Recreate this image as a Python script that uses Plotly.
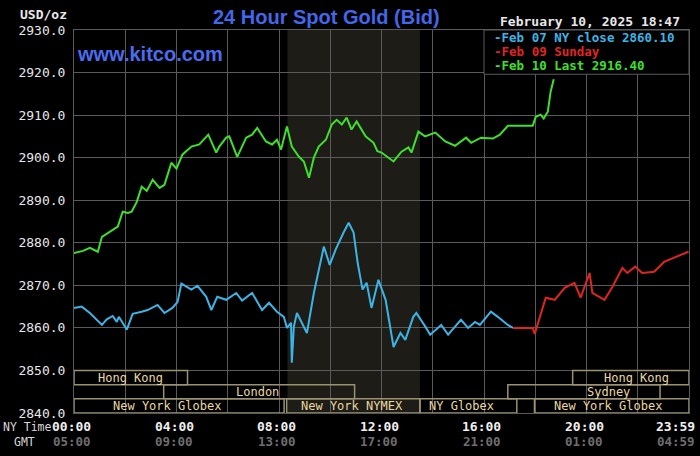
import plotly.graph_objects as go

# ---------------- data ----------------
blue_t = [0.0, 0.3, 0.62, 1.09, 1.28, 1.51, 1.67, 1.75, 2.06, 2.29, 2.64, 2.87, 3.26, 3.53, 3.84,
          4.04, 4.19, 4.39, 4.58, 4.82, 5.16, 5.36, 5.59, 5.94, 6.33, 6.56, 6.95, 7.34, 7.61, 7.92,
          8.19, 8.31, 8.47, 8.50, 8.58, 8.70, 8.89, 9.09, 9.36, 9.55, 9.75, 9.98, 10.21, 10.52,
          10.72, 10.91, 11.07, 11.26, 11.42, 11.61, 11.88, 12.16, 12.47, 12.74, 12.93, 13.24,
          13.36, 13.71, 13.90, 14.33, 14.60, 14.87, 15.10, 15.38, 15.65, 15.84, 16.27, 16.54,
          16.93, 17.13]
blue_v = [2864.7, 2865.0, 2863.5, 2860.7, 2862.0, 2862.8, 2861.4, 2862.6, 2859.6, 2863.3, 2863.8,
          2864.2, 2865.4, 2863.5, 2864.7, 2866.1, 2870.4, 2869.7, 2869.0, 2869.9, 2867.3, 2864.2,
          2867.3, 2866.6, 2868.2, 2866.4, 2868.2, 2864.2, 2865.9, 2863.8, 2862.6, 2860.0, 2861.2,
          2851.8, 2860.3, 2863.5, 2861.2, 2858.8, 2868.2, 2873.6, 2879.1, 2874.8, 2878.4, 2882.4,
          2884.7, 2882.4, 2875.3, 2869.0, 2870.6, 2864.7, 2871.3, 2866.6, 2855.5, 2858.8, 2857.2,
          2862.6, 2863.5, 2860.3, 2858.4, 2860.7, 2858.4, 2860.3, 2861.9, 2860.0, 2861.4, 2860.7,
          2863.8, 2862.6, 2860.7, 2860.0]

red_t = [17.13, 17.90, 17.98, 18.41, 18.76, 19.15, 19.53, 19.77, 20.12, 20.23, 20.70, 21.01,
         21.40, 21.59, 21.90, 22.17, 22.64, 23.03, 23.42, 23.81, 23.98]
red_v = [2860.0, 2860.0, 2858.6, 2867.1, 2866.6, 2869.4, 2870.6, 2867.1, 2872.9, 2868.2, 2866.6,
         2869.6, 2874.1, 2872.9, 2874.4, 2872.9, 2873.2, 2875.5, 2876.5, 2877.6, 2877.9]

green_t = [0.0, 0.35, 0.62, 0.93, 1.09, 1.40, 1.71, 1.90, 2.10, 2.25, 2.45, 2.64, 2.84, 3.07, 3.34,
           3.53, 3.80, 4.00, 4.23, 4.58, 4.89, 5.24, 5.55, 5.67, 5.94, 6.06, 6.37, 6.72, 6.95, 7.15,
           7.49, 7.73, 7.92, 8.08, 8.31, 8.50, 8.78, 8.97, 9.17, 9.36, 9.55, 9.83, 10.06, 10.25,
           10.45, 10.64, 10.83, 11.03, 11.38, 11.69, 11.84, 12.00, 12.47, 12.78, 13.05, 13.17,
           13.44, 13.70, 14.10, 14.49, 14.87, 15.30, 15.50, 15.88, 16.35, 16.62, 16.93, 17.90,
           18.02, 18.21, 18.33, 18.49, 18.56, 18.60, 18.72]
green_v = [2877.6, 2878.1, 2878.8, 2877.9, 2881.4, 2882.6, 2883.8, 2887.3, 2887.0, 2887.3, 2889.6,
           2893.2, 2892.2, 2894.8, 2892.9, 2893.6, 2898.8, 2897.4, 2900.7, 2902.6, 2903.1, 2905.4,
           2901.2, 2902.6, 2904.7, 2905.0, 2900.2, 2904.7, 2905.4, 2907.0, 2903.8, 2903.1, 2904.2,
           2901.9, 2907.3, 2902.6, 2900.2, 2899.1, 2895.3, 2900.0, 2902.6, 2904.2, 2907.8, 2908.9,
           2907.8, 2909.4, 2906.6, 2908.5, 2905.0, 2903.5, 2901.5, 2901.2, 2899.1, 2901.4, 2902.4,
           2901.2, 2906.1, 2905.0, 2905.9, 2903.8, 2902.8, 2904.7, 2903.5, 2904.7, 2904.5, 2905.4,
           2907.5, 2907.5, 2909.6, 2910.1, 2909.2, 2910.8, 2913.6, 2915.5, 2918.4]

y_ticks = [2840, 2850, 2860, 2870, 2880, 2890, 2900, 2910, 2920, 2930]
x_grid = [0, 2, 4, 6, 8, 10, 12, 14, 16, 18, 20, 22, 24]
label_pos = [0, 4, 8, 12, 16, 20, 24]
ny_labels = ["00:00", "04:00", "08:00", "12:00", "16:00", "20:00", "23:59"]
gmt_labels = ["05:00", "09:00", "13:00", "17:00", "21:00", "01:00", "04:59"]

legend_lines = ["-Feb 07 NY close 2860.10", "-Feb 09 Sunday", "-Feb 10 Last 2916.40"]

# market sessions: name, start hour, end hour, row (0 top), label centre hour
sess_name = ["Hong Kong", "Hong Kong", "London", "Sydney", "New York Globex", "New York NYMEX",
             "NY Globex", "New York Globex"]
sess_start = [0.0, 19.46, 3.5, 16.93, 0.0, 8.3, 13.5, 17.97]
sess_end = [4.43, 24.0, 10.95, 22.87, 8.2, 13.5, 17.28, 24.0]
sess_row = [0, 0, 1, 1, 2, 2, 2, 2]
sess_label = [2.21, 21.94, 7.15, 20.85, 3.61, 10.83, 15.11, 20.85]
nymex_window = (8.33, 13.5)

# ---------------- styles ----------------
BLUE = "#3cb4e6"
RED = "#e02424"
GREEN = "#3ee02a"
GRID = "#5a5a5a"
BOXC = "#9a9270"
TXTC = "#ead8a0"
MONO = "DejaVu Sans Mono"

fig = go.Figure()
fig.add_trace(go.Scatter(x=blue_t, y=blue_v, mode="lines", line=dict(color=BLUE, width=2)))
fig.add_trace(go.Scatter(x=red_t, y=red_v, mode="lines", line=dict(color=RED, width=2)))
fig.add_trace(go.Scatter(x=green_t, y=green_v, mode="lines", line=dict(color=GREEN, width=2)))

shapes = []
shapes.append(dict(type="rect", xref="x", yref="y", x0=nymex_window[0], x1=nymex_window[1],
                   y0=2840, y1=2930, fillcolor="#1d1c17", line=dict(width=0), layer="below"))

row_h = 10 / 3.0
annotations = []
for n, s, e, r, lx in zip(sess_name, sess_start, sess_end, sess_row, sess_label):
    y1 = 2850 - r * row_h
    y0 = y1 - row_h
    shapes.append(dict(type="rect", xref="x", yref="y", x0=s, x1=e, y0=y0, y1=y1,
                       line=dict(color=BOXC, width=1.5), fillcolor="rgba(0,0,0,0)", layer="above"))
    annotations.append(dict(xref="x", yref="y", x=lx, y=(y0 + y1) / 2, text=n, showarrow=False,
                            font=dict(family=MONO, size=12, color=TXTC), xanchor="center",
                            yanchor="middle", borderpad=0))

# legend box
shapes.append(dict(type="rect", xref="x", yref="y", x0=16.0, x1=24.0, y0=2919.6, y1=2930,
                   fillcolor="#000000", line=dict(color=GRID, width=1), layer="above"))
leg_colors = [BLUE, RED, GREEN]
for i, (t, c) in enumerate(zip(legend_lines, leg_colors)):
    annotations.append(dict(xref="paper", yref="paper", x=0.6813, y=1, xanchor="left", yanchor="middle",
                            yshift=-7.5 - 13.8 * i, text="<b>" + t + "</b>", showarrow=False,
                            borderpad=0, font=dict(family=MONO, size=12.5, color=c)))

# time labels (NY + GMT rows)
for k, (p, ny, g) in enumerate(zip(label_pos, ny_labels, gmt_labels)):
    last = k == len(label_pos) - 1
    anchor = "right" if last else "center"
    xs = 7 if last else -2.5
    annotations.append(dict(xref="x", yref="paper", x=p, y=0, yanchor="middle", xanchor=anchor,
                            xshift=xs, yshift=-13.5, text="<b>" + ny + "</b>", showarrow=False,
                            borderpad=0, font=dict(family=MONO, size=13, color="#f0f0f0")))
    annotations.append(dict(xref="x", yref="paper", x=p, y=0, yanchor="middle", xanchor=anchor,
                            xshift=xs, yshift=-28.5, text="<b>" + g + "</b>", showarrow=False,
                            borderpad=0, font=dict(family=MONO, size=12.5, color="#6e6e6e")))

annotations += [
    dict(xref="paper", yref="paper", x=0, y=0, xanchor="left", yanchor="middle", xshift=-72, yshift=-14,
         text="NY Time", showarrow=False, borderpad=0, font=dict(family=MONO, size=11.5, color="#d8d8d8")),
    dict(xref="paper", yref="paper", x=0, y=0, xanchor="left", yanchor="middle", xshift=-61, yshift=-28.5,
         text="GMT", showarrow=False, borderpad=0, font=dict(family=MONO, size=11.5, color="#d8d8d8")),
    dict(xref="paper", yref="paper", x=0, y=1, xanchor="right", yanchor="middle", xshift=-5, yshift=16,
         text="<b>USD/oz</b>", showarrow=False, font=dict(family=MONO, size=13, color="#e8e8e8")),
    dict(xref="paper", yref="paper", x=0.6894, y=1, xanchor="left", yanchor="middle", yshift=8.5,
         text="<b>February 10, 2025 18:47</b>", showarrow=False,
         font=dict(family=MONO, size=13, color="#e8e8e8")),
    dict(xref="paper", yref="paper", x=0.41, y=1, xanchor="center", yanchor="middle", yshift=13.5,
         text="<b>24 Hour Spot Gold (Bid)</b>", showarrow=False,
         font=dict(family="Liberation Sans", size=20, color="#4466e8")),
    dict(xref="paper", yref="paper", x=0, y=1, xanchor="left", yanchor="middle", xshift=1, yshift=-23.5,
         text="<b>www.kitco.com</b>", showarrow=False,
         font=dict(family="Liberation Sans", size=20, color="#4a6cf0")),
]

fig.update_layout(
    width=700, height=456,
    margin=dict(l=74, r=11, t=30, b=43),
    paper_bgcolor="#000000", plot_bgcolor="#000000",
    showlegend=False,
    shapes=shapes, annotations=annotations,
    xaxis=dict(range=[0, 24], tickvals=x_grid, showticklabels=False,
               showgrid=True, gridcolor=GRID, gridwidth=1, zeroline=False,
               showline=True, linecolor=GRID, linewidth=1, mirror=True, ticks=""),
    yaxis=dict(range=[2840, 2930], tickvals=y_ticks, tickformat=".1f",
               tickprefix="<b>", ticksuffix="</b>",
               showgrid=True, gridcolor=GRID, gridwidth=1, zeroline=False,
               showline=True, linecolor=GRID, linewidth=1, mirror=True, ticks="",
               tickfont=dict(family=MONO, size=13, color="#e8e8e8"), ticklabelstandoff=5),
)

fig.write_html("out.html")
